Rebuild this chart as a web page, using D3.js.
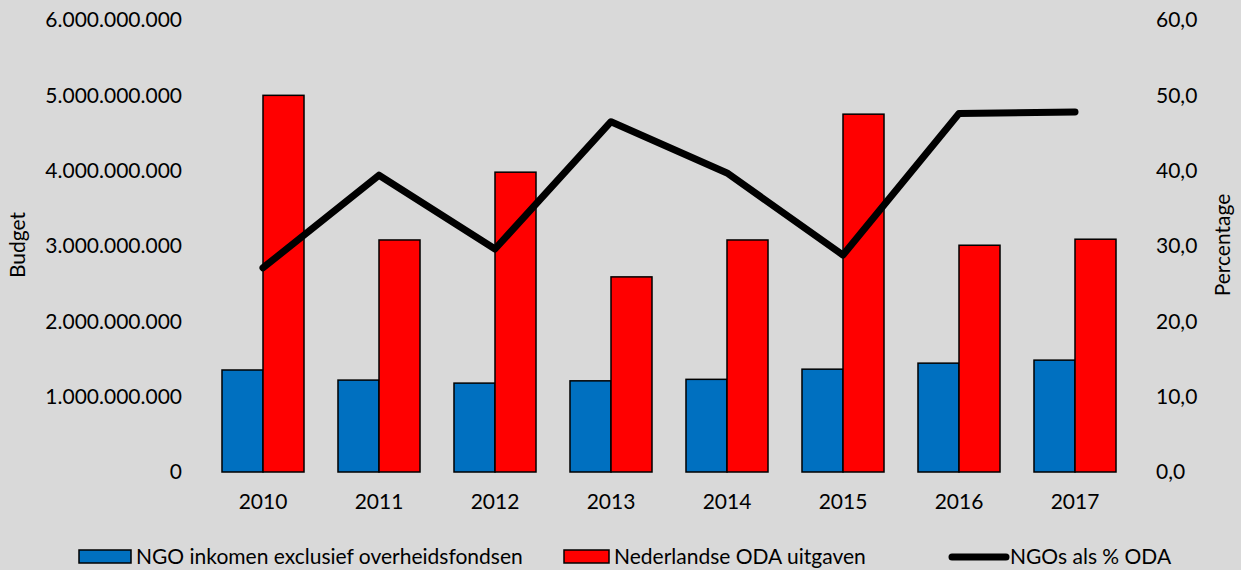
<!DOCTYPE html>
<html><head><meta charset="utf-8">
<script src="https://cdn.jsdelivr.net/npm/d3@7"></script>
<style>
body{margin:0;background:#d9d9d9;}
text{font-family:Lato,"Open Sans",sans-serif;fill:#000;}
</style></head>
<body><svg id="c" width="1241" height="570"></svg>
<script>
const years = ["2010","2011","2012","2013","2014","2015","2016","2017"];
const ngoIncome = [1.354e9,1.22e9,1.18e9,1.21e9,1.23e9,1.365e9,1.445e9,1.485e9];
const odaSpend = [5.0e9,3.08e9,3.98e9,2.59e9,3.08e9,4.75e9,3.01e9,3.09e9];
const ngoPct = [27.1,39.4,29.6,46.5,39.7,28.8,47.6,47.8];
const leftTicks = [0,1e9,2e9,3e9,4e9,5e9,6e9];
const rightTicks = [0,10,20,30,40,50,60];
const seriesNames = ["NGO inkomen exclusief overheidsfondsen","Nederlandse ODA uitgaven","NGOs als % ODA"];
const colors = ["#0070c0","#ff0000","#000000"];

const svg = d3.select("#c");
svg.append("rect").attr("width",1241).attr("height",570).attr("fill","#d9d9d9");
const L=205,R=1133,T=20,B=472;
const FS="21px";
const x = d3.scaleBand().domain(years).range([L,R]).paddingInner(0.293).paddingOuter(0.1465);
const yL = d3.scaleLinear().domain([0,6e9]).range([B,T]);
const yR = d3.scaleLinear().domain([0,60]).range([B,T]);
const fmt = v => d3.format(",")(v).replace(/,/g,".");
const fmtR = v => d3.format(".1f")(v).replace(".",",");

const axL = svg.append("g").attr("transform",`translate(${L},0)`)
  .call(d3.axisLeft(yL).tickValues(leftTicks).tickFormat(fmt).tickSize(0).tickPadding(23));
const axR = svg.append("g").attr("transform",`translate(${R},0)`)
  .call(d3.axisRight(yR).tickValues(rightTicks).tickFormat(fmtR).tickSize(0).tickPadding(23));
const axB = svg.append("g").attr("transform",`translate(0,${B})`)
  .call(d3.axisBottom(x).tickSize(0).tickPadding(22));
[axL,axR,axB].forEach(a=>{a.select(".domain").remove();a.selectAll("text").style("font-size",FS).style("font-family","Lato");});

const bw = x.bandwidth()/2;
const g = svg.append("g");
g.selectAll(".b1").data(years).join("rect")
  .attr("x",d=>x(d)).attr("y",(d,i)=>yL(ngoIncome[i])).attr("width",bw)
  .attr("height",(d,i)=>B-yL(ngoIncome[i])).attr("fill",colors[0]).attr("stroke","#000").attr("stroke-width",1.5);
g.selectAll(".b2").data(years).join("rect")
  .attr("x",d=>x(d)+bw).attr("y",(d,i)=>yL(odaSpend[i])).attr("width",bw)
  .attr("height",(d,i)=>B-yL(odaSpend[i])).attr("fill",colors[1]).attr("stroke","#000").attr("stroke-width",1.5);

const line = d3.line().x((d,i)=>x(years[i])+x.bandwidth()/2).y(d=>yR(d));
svg.append("path").datum(ngoPct).attr("d",line).attr("fill","none")
  .attr("stroke","#000").attr("stroke-width",7).attr("stroke-linecap","round").attr("stroke-linejoin","round");

svg.append("text").attr("transform","translate(25,245) rotate(-90)").attr("text-anchor","middle")
  .style("font-size",FS).text("Budget");
svg.append("text").attr("transform","translate(1230,245) rotate(-90)").attr("text-anchor","middle")
  .style("font-size",FS).text("Percentage");

// legend
const lg = svg.append("g");
const ly = 557;
lg.append("rect").attr("x",79).attr("y",550).attr("width",52).attr("height",13).attr("fill",colors[0]).attr("stroke","#000").attr("stroke-width",1.5);
lg.append("text").attr("x",136).attr("y",ly).attr("dy","0.35em").style("font-size",FS).text(seriesNames[0]);
lg.append("rect").attr("x",564).attr("y",550).attr("width",45).attr("height",13).attr("fill",colors[1]).attr("stroke","#000").attr("stroke-width",1.5);
lg.append("text").attr("x",614).attr("y",ly).attr("dy","0.35em").style("font-size",FS).text(seriesNames[1]);
lg.append("line").attr("x1",952).attr("x2",1006).attr("y1",ly).attr("y2",ly).attr("stroke","#000").attr("stroke-width",7).attr("stroke-linecap","round");
lg.append("text").attr("x",1010).attr("y",ly).attr("dy","0.35em").style("font-size",FS).text(seriesNames[2]);
</script></body></html>
